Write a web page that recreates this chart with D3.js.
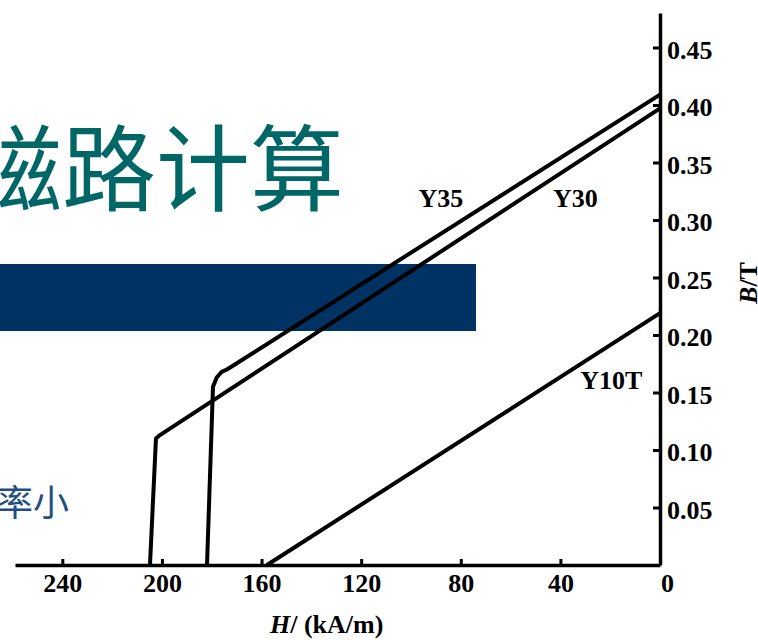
<!DOCTYPE html>
<html>
<head>
<meta charset="utf-8">
<script src="https://cdn.jsdelivr.net/npm/d3@7"></script>
<style>
  html, body { margin: 0; padding: 0; background: #fff; overflow: hidden; }
  svg { display: block; }
</style>
</head>
<body>
<div id="chart"></div>
<script>
// demagnetisation curves, H in kA/m (axis runs right to left), B in T
var hTicks = [240, 200, 160, 120, 80, 40, 0];
var bTicks = [0.05, 0.10, 0.15, 0.20, 0.25, 0.30, 0.35, 0.40, 0.45];

var y35H = [181.9, 179.5, 178.0, 176.0, 173.9, 0];
var y35B = [0, 0.155, 0.163, 0.168, 0.170, 0.409];

var y30H = [204.8, 202.4, 200.8, 0];
var y30B = [0, 0.110, 0.113, 0.397];

var y10tH = [157.8, 0];
var y10tB = [0, 0.219];

var curveNames = ["Y35", "Y30", "Y10T"];
var curveLabelPos = [[97, 0.311], [43, 0.311], [32, 0.153]];

var W = 758, H = 640;
var svg = d3.select("#chart").append("svg")
    .attr("width", W)
    .attr("height", H);

// slide background bits behind the scanned figure
svg.append("text")
    .attr("x", -32)
    .attr("y", 204)
    .style("font-family", "'Noto Sans CJK SC'")
    .style("font-size", "94px")
    .style("fill", "#006666")
    .text("磁路计算");

svg.append("rect")
    .attr("x", 0)
    .attr("y", 264)
    .attr("width", 476)
    .attr("height", 67)
    .attr("fill", "#003263");

svg.append("text")
    .attr("x", -3)
    .attr("y", 516)
    .style("font-family", "'Noto Sans CJK SC'")
    .style("font-size", "36px")
    .style("fill", "#1f4f82")
    .text("率小");

var x = d3.scaleLinear().domain([259, 0]).range([15, 660]);
var y = d3.scaleLinear().domain([0, 0.48]).range([565, 13]);

var serif = "'Liberation Serif', 'DejaVu Serif', serif";
var fs = "26px";

var xAxis = svg.append("g")
    .attr("transform", "translate(0," + y(0) + ")")
    .call(d3.axisBottom(x).tickValues(hTicks).tickSizeInner(-6).tickSizeOuter(0).tickPadding(9)
        .tickFormat(function(d) { return d; }));
xAxis.select(".domain").attr("stroke", "#000").attr("stroke-width", 3.5);
xAxis.selectAll(".tick line").attr("stroke", "#000").attr("stroke-width", 3)
    .attr("opacity", function(d) { return d === 0 ? 0 : 1; });
xAxis.selectAll(".tick text")
    .style("font-family", serif)
    .style("font-size", fs)
    .style("font-weight", "bold")
    .attr("dx", function(d) { return d === 0 ? 7 : 0; })
    .attr("fill", "#000");

var yAxis = svg.append("g")
    .attr("transform", "translate(" + x(0) + ",0)")
    .call(d3.axisRight(y).tickValues(bTicks).tickSizeInner(-7).tickSizeOuter(0).tickPadding(7)
        .tickFormat(d3.format(".2f")));
yAxis.select(".domain").attr("stroke", "#000").attr("stroke-width", 3.5);
yAxis.selectAll(".tick line").attr("stroke", "#000").attr("stroke-width", 3);
yAxis.selectAll(".tick text")
    .style("font-family", serif)
    .style("font-size", fs)
    .style("font-weight", "bold")
    .attr("dy", "0.42em")
    .attr("fill", "#000");

var line = d3.line()
    .x(function(d) { return x(d[0]); })
    .y(function(d) { return y(d[1]); });

[[y35H, y35B], [y30H, y30B], [y10tH, y10tB]].forEach(function(c) {
    svg.append("path")
        .datum(d3.zip(c[0], c[1]))
        .attr("d", line)
        .attr("fill", "none")
        .attr("stroke", "#000")
        .attr("stroke-width", 4)
        .attr("stroke-linejoin", "round");
});

svg.selectAll(".curve-label")
    .data(curveNames)
    .enter().append("text")
    .attr("class", "curve-label")
    .attr("x", function(d, i) { return x(curveLabelPos[i][0]); })
    .attr("y", function(d, i) { return y(curveLabelPos[i][1]); })
    .style("font-family", serif)
    .style("font-size", fs)
    .style("font-weight", "bold")
    .text(function(d) { return d; });

// axis titles
var xt = svg.append("text")
    .attr("x", 270)
    .attr("y", 633)
    .style("font-family", serif)
    .style("font-size", fs)
    .style("font-weight", "bold");
xt.append("tspan").style("font-style", "italic").text("H");
xt.append("tspan").text("/ (kA/m)");

var yt = svg.append("text")
    .attr("transform", "translate(757,283) rotate(-90)")
    .attr("text-anchor", "middle")
    .style("font-family", serif)
    .style("font-size", fs)
    .style("font-weight", "bold");
yt.append("tspan").style("font-style", "italic").text("B");
yt.append("tspan").text("/T");
</script>
</body>
</html>
